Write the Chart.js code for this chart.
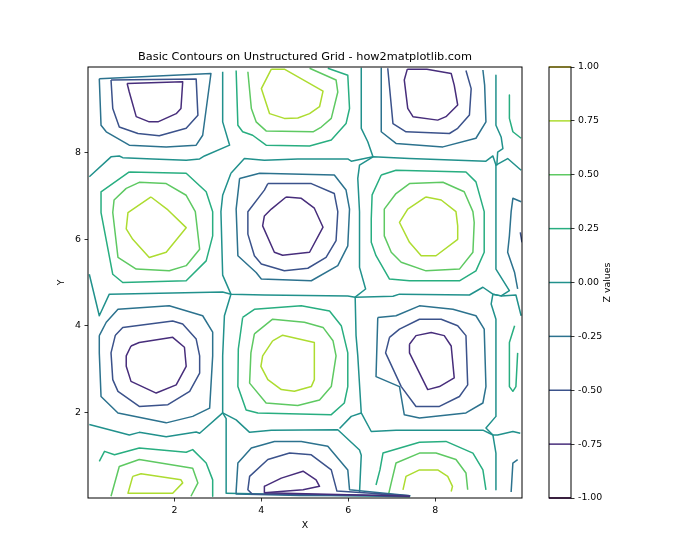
<!DOCTYPE html>
<html><head><meta charset="utf-8">
<script src="https://cdn.jsdelivr.net/npm/chart.js@4.4.1/dist/chart.umd.min.js"></script>
<style>
html,body{margin:0;padding:0;background:#fff;}
#wrap{position:relative;width:700px;height:560px;background:#fff;}
#main{position:absolute;left:0;top:0;}
#cbar{position:absolute;left:540px;top:0;}
</style></head><body>
<div id="wrap"><canvas id="main" width="700" height="560"></canvas><canvas id="cbar" width="160" height="560"></canvas></div>
<script>
const chartTitle = 'Basic Contours on Unstructured Grid - how2matplotlib.com';
const xLabel = 'X', yLabel = 'Y', cbarLabel = 'Z values';
const xTicks = [2, 4, 6, 8];
const yTicks = [2, 4, 6, 8];
const levels = [-1, -0.75, -0.5, -0.25, 0, 0.25, 0.5, 0.75, 1];
const levelColors = ['#440154','#472d7b','#3b528b','#2c728e','#21918c','#28ae80','#5ec962','#addc30','#fde725'];

// contour polylines, [x, y] in data units
// level -0.75
const m75_tl = [[0.91,9.61],[2.19,9.65],[2.15,9.03],[2.04,8.91],[1.62,8.72],[1.42,8.72],[1.12,8.84],[0.96,9.41],[0.91,9.61]];
const m75_tr = [[7.36,9.94],[7.29,9.69],[7.37,9.03],[7.49,8.84],[8.06,8.76],[8.25,8.84],[8.52,9.11],[8.44,9.57],[8.37,9.84],[7.81,9.94],[7.36,9.94]];
const m75_mc = [[4.57,6.98],[4.92,6.95],[5.22,6.72],[5.42,6.28],[5.11,5.70],[4.49,5.63],[4.30,5.70],[4.03,6.31],[4.07,6.54],[4.23,6.70],[4.57,6.98]];
const m75_ml = [[1.00,3.53],[1.19,3.61],[1.96,3.73],[2.23,3.50],[2.27,3.06],[2.04,2.63],[1.58,2.44],[1.00,2.71],[0.89,3.06],[0.89,3.30],[1.00,3.53]];
const m75_mr = [[7.41,3.57],[7.56,3.77],[7.91,3.84],[8.21,3.77],[8.37,3.53],[8.44,2.79],[8.10,2.59],[7.83,2.52],[7.41,3.37],[7.41,3.57]];
const m75_bc = [[4.07,0.28],[4.07,0.13],[4.96,0.20],[5.34,0.28],[5.26,0.43],[4.96,0.63],[4.46,0.47],[4.07,0.28]];
const m75_band = [[4.07,0.13],[7.42,0.05]];
// level -0.5
const m50_tl = [[0.54,9.69],[2.50,9.71],[2.54,8.87],[2.27,8.57],[1.65,8.40],[1.16,8.45],[0.73,8.60],[0.58,9.03],[0.54,9.69]];
const m50_tr = [[6.91,9.96],[7.03,8.68],[7.33,8.49],[8.33,8.45],[8.52,8.57],[8.79,8.88],[8.83,9.49],[8.71,9.91]];
const m50_mc = [[4.15,7.29],[5.15,7.29],[5.68,7.06],[5.76,6.64],[5.72,5.97],[5.49,5.58],[5.07,5.33],[4.53,5.27],[4.00,5.43],[3.84,5.62],[3.69,6.12],[3.69,6.64],[4.07,7.14],[4.15,7.29]];
const m50_ml = [[0.64,3.78],[0.81,3.96],[1.96,4.11],[2.19,4.04],[2.50,3.69],[2.58,3.30],[2.58,2.90],[2.35,2.48],[1.85,2.17],[1.19,2.13],[0.70,2.48],[0.58,2.75],[0.54,3.37],[0.64,3.78]];
const m50_mr = [[6.95,3.73],[7.18,3.92],[7.64,4.15],[8.14,4.15],[8.52,4.00],[8.71,3.77],[8.75,2.63],[8.56,2.36],[8.10,2.13],[7.56,2.13],[7.22,2.59],[6.86,3.37],[6.95,3.73]];
const m50_bc = [[7.42,0.06],[5.74,0.17],[5.61,0.66],[5.15,1.01],[4.65,1.05],[4.15,0.90],[3.73,0.51],[3.69,0.20],[3.79,0.10],[4.89,0.09],[7.42,0.06]];
const m50_r = [[9.96,6.16],[10.0,5.93]];
// level -0.25
const m25_tl = [[0.27,9.72],[2.84,9.84],[2.65,8.41],[2.50,8.18],[1.81,8.14],[0.96,8.18],[0.43,8.49],[0.31,8.64],[0.27,9.72]];
const m25_tr = [[6.76,9.96],[6.76,8.49],[7.10,8.22],[8.18,8.14],[8.94,8.34],[9.17,8.72],[9.14,9.57],[9.10,9.92]];
const m25_mc = [[3.50,7.41],[3.96,7.53],[5.68,7.49],[5.95,7.14],[6.03,6.70],[5.99,5.85],[5.76,5.39],[5.15,5.04],[4.00,5.08],[3.88,5.23],[3.46,5.62],[3.42,6.70],[3.50,7.41]];
const m25_ml = [[0.27,3.77],[0.43,4.08],[0.70,4.38],[1.88,4.46],[2.65,4.23],[2.88,3.85],[2.88,3.30],[2.81,2.09],[2.42,1.90],[1.81,1.75],[0.70,1.98],[0.31,2.36],[0.27,3.37],[0.27,3.77]];
const m25_mr = [[6.68,4.19],[7.10,4.23],[7.64,4.46],[8.41,4.38],[8.94,4.23],[9.13,3.92],[9.17,2.59],[9.10,2.21],[8.71,1.98],[7.64,1.86],[7.29,1.94],[7.18,2.59],[6.64,2.82],[6.68,4.19]];
const m25_bc = [[3.42,0.17],[3.46,0.82],[3.77,1.17],[4.30,1.32],[4.92,1.32],[5.53,1.21],[5.99,0.66],[6.03,0.20],[7.42,0.06],[4.89,0.07],[3.42,0.10],[3.42,0.17]];
const m25_rm = [[9.98,6.87],[9.79,6.95],[9.75,6.64],[9.71,6.08],[9.67,5.70],[9.83,5.23],[9.90,4.85]];
const m25_rb = [[9.75,0.15],[9.79,0.82],[9.90,0.90]];
// level 0
const z0_a = [[0.04,7.45],[0.54,7.91],[0.73,7.93],[0.81,7.89],[1.50,7.86],[2.27,7.83],[2.58,7.86],[2.69,7.93],[3.27,8.18],[3.11,8.72],[3.11,9.88]];
const z0_b = [[3.30,7.53],[3.61,7.87],[4.07,7.83],[4.84,7.86],[5.99,7.86],[6.07,7.81],[6.57,7.91],[7.41,7.87],[9.17,7.81],[9.33,7.93],[9.40,7.72],[9.67,7.87],[9.98,7.60]];
const z0_c = [[3.30,7.53],[3.11,7.02],[3.07,6.64],[3.11,5.17],[3.21,4.94],[3.30,4.73],[3.15,4.23],[3.11,3.30],[3.11,1.98],[3.19,1.85],[3.19,0.12]];
const z0_d = [[6.30,9.96],[6.30,8.57],[6.45,8.26],[6.57,7.91]];
const z0_e = [[6.57,7.91],[6.26,7.72],[6.22,7.41],[6.26,6.64],[6.26,5.35],[6.40,4.85],[6.16,4.66],[6.18,3.77],[6.22,3.30],[6.30,1.98],[6.07,1.90],[5.80,1.62]];
const z0_f = [[0.04,5.19],[0.27,4.23],[0.50,4.73],[3.11,4.78],[3.30,4.73],[4.07,4.71],[5.99,4.69],[6.16,4.66],[7.03,4.68],[7.18,4.73],[8.79,4.71],[9.10,4.89],[9.33,4.73],[9.52,4.69],[9.86,4.71],[9.98,4.23]];
const z0_g = [[0.04,1.71],[0.81,1.51],[0.96,1.47],[1.19,1.53],[1.81,1.43],[2.50,1.54],[2.58,1.51],[3.11,1.98]];
const z0_h = [[3.11,1.98],[3.42,1.82],[3.73,1.53],[4.23,1.58],[5.76,1.59],[6.26,1.12],[6.30,1.00],[6.26,0.13]];
const z0_i = [[6.30,1.98],[6.53,1.55],[7.10,1.58],[9.10,1.58],[9.33,1.47],[9.44,1.47],[9.79,1.55],[9.96,1.51]];
const z0_j = [[9.40,9.80],[9.40,8.64],[9.52,8.37],[9.56,8.10],[9.44,8.02],[9.42,7.71]];
const z0_k = [[9.40,7.72],[9.40,6.68],[9.40,5.31],[9.71,4.81],[9.52,4.69],[9.33,4.73],[9.29,4.50],[9.40,4.15],[9.40,2.28],[9.40,1.90],[9.17,1.63],[9.33,1.47],[9.40,1.05],[9.40,0.20]];
const z0_band = [[3.19,0.12],[7.42,0.04]];
// level 0.25
const p25_tc = [[3.42,9.91],[3.46,8.64],[3.57,8.49],[3.80,8.41],[4.11,8.18],[5.11,8.16],[5.61,8.30],[5.95,8.68],[6.03,9.03],[5.99,9.80],[5.53,9.96]];
const p25_ml = [[0.96,7.56],[2.27,7.53],[2.73,7.10],[2.88,6.64],[2.88,6.08],[2.73,5.50],[2.27,5.04],[0.81,5.00],[0.58,5.19],[0.31,6.62],[0.31,7.10],[0.96,7.56]];
const p25_mr = [[6.76,7.49],[7.10,7.60],[8.71,7.56],[8.94,7.33],[9.13,6.64],[9.13,5.70],[8.94,5.27],[8.56,5.04],[7.41,5.04],[6.95,5.08],[6.64,5.62],[6.53,5.93],[6.53,6.47],[6.55,7.03],[6.76,7.49]];
const p25_mc = [[3.57,4.19],[3.84,4.38],[4.92,4.46],[5.57,4.34],[5.84,4.00],[5.99,3.37],[5.99,2.59],[5.91,2.21],[5.61,1.94],[3.92,1.98],[3.65,2.05],[3.46,2.59],[3.47,3.46],[3.57,4.19]];
const p25_bl = [[0.27,0.86],[0.39,1.09],[0.62,1.01],[1.19,1.17],[2.27,1.07],[2.42,1.13],[2.73,0.82],[2.88,0.43],[2.88,0.05]];
const p25_br = [[6.64,0.31],[6.73,0.66],[6.80,1.05],[7.64,1.30],[8.25,1.32],[8.87,1.05],[9.10,0.66],[9.17,0.20]];
const p25_rt = [[9.71,9.34],[9.71,8.80],[9.79,8.49],[9.98,8.34]];
const p25_rm = [[9.83,4.00],[9.71,3.61],[9.71,2.59],[9.79,2.48],[9.86,2.59],[9.90,3.37]];
// level 0.5
const p50_tc = [[3.69,9.88],[3.77,9.03],[3.88,8.72],[4.11,8.51],[5.19,8.49],[5.38,8.60],[5.61,8.80],[5.76,9.41],[5.72,9.69],[5.11,9.96]];
const p50_ml = [[0.89,7.18],[1.19,7.32],[1.81,7.29],[2.27,7.02],[2.48,6.64],[2.58,5.77],[2.27,5.39],[1.88,5.27],[1.12,5.31],[0.70,5.58],[0.58,6.62],[0.61,6.91],[0.89,7.18]];
const p50_mr = [[7.10,7.06],[7.41,7.29],[8.18,7.32],[8.67,7.10],[8.87,6.64],[8.90,6.39],[8.87,5.70],[8.56,5.31],[7.79,5.27],[7.22,5.47],[6.99,5.70],[6.83,6.08],[6.83,6.70],[7.10,7.06]];
const p50_mc = [[3.84,3.81],[4.26,4.15],[4.99,4.08],[5.42,3.96],[5.65,3.65],[5.72,3.30],[5.61,2.59],[5.34,2.28],[4.84,2.15],[4.11,2.21],[3.73,2.67],[3.76,3.37],[3.84,3.81]];
const p50_bl = [[0.54,0.05],[0.73,0.74],[1.19,0.90],[2.42,0.70],[2.54,0.36],[2.38,0.05]];
const p50_br = [[6.92,0.06],[6.99,0.36],[7.10,0.82],[7.64,1.05],[8.02,1.05],[8.48,0.90],[8.71,0.59],[8.75,0.20]];
// level 0.75
const p75_tc = [[4.23,9.94],[4.53,9.94],[5.42,9.43],[5.34,9.07],[5.11,8.91],[4.84,8.81],[4.53,8.80],[4.19,8.91],[4.00,9.49],[4.23,9.94]];
const p75_ml = [[1.46,6.98],[1.85,6.68],[2.27,6.27],[1.81,5.70],[1.42,5.58],[1.04,6.00],[0.89,6.24],[0.93,6.62],[1.46,6.98]];
const p75_mr = [[7.79,6.98],[8.14,6.91],[8.48,6.64],[8.52,6.31],[8.52,6.00],[8.02,5.62],[7.68,5.62],[7.41,5.93],[7.18,6.39],[7.37,6.70],[7.79,6.98]];
const p75_mc = [[4.26,3.65],[4.49,3.78],[5.22,3.61],[5.22,2.75],[5.15,2.59],[4.76,2.48],[4.46,2.52],[4.15,2.75],[3.99,3.06],[4.03,3.30],[4.26,3.65]];
const p75_bl = [[1.04,0.51],[1.23,0.57],[2.15,0.43],[2.19,0.36],[1.96,0.12],[0.93,0.12],[1.04,0.51]];
const p75_br = [[7.26,0.20],[7.33,0.51],[7.64,0.66],[8.06,0.66],[8.29,0.51],[8.40,0.28],[8.37,0.16]];

const contourLines = [
  [-0.75, m75_tl], [-0.75, m75_tr], [-0.75, m75_mc], [-0.75, m75_ml], [-0.75, m75_mr], [-0.75, m75_bc], [-0.75, m75_band],
  [-0.5, m50_tl], [-0.5, m50_tr], [-0.5, m50_mc], [-0.5, m50_ml], [-0.5, m50_mr], [-0.5, m50_bc], [-0.5, m50_r],
  [-0.25, m25_tl], [-0.25, m25_tr], [-0.25, m25_mc], [-0.25, m25_ml], [-0.25, m25_mr], [-0.25, m25_bc], [-0.25, m25_rm], [-0.25, m25_rb],
  [0, z0_a], [0, z0_b], [0, z0_c], [0, z0_d], [0, z0_e], [0, z0_f], [0, z0_g], [0, z0_h], [0, z0_i], [0, z0_j], [0, z0_k], [0, z0_band],
  [0.25, p25_tc], [0.25, p25_ml], [0.25, p25_mr], [0.25, p25_mc], [0.25, p25_bl], [0.25, p25_br], [0.25, p25_rt], [0.25, p25_rm],
  [0.5, p50_tc], [0.5, p50_ml], [0.5, p50_mr], [0.5, p50_mc], [0.5, p50_bl], [0.5, p50_br],
  [0.75, p75_tc], [0.75, p75_ml], [0.75, p75_mr], [0.75, p75_mc], [0.75, p75_bl], [0.75, p75_br]
];

const FONT = '"DejaVu Sans", sans-serif';
Chart.defaults.font.family = FONT;
Chart.defaults.color = '#000';
const colorOf = lev => levelColors[levels.indexOf(lev)];

const framePlugin = {
  id: 'frame',
  afterDatasetsDraw(chart) {
    const {ctx, chartArea: a} = chart;
    ctx.save();
    ctx.strokeStyle = '#000';
    ctx.lineWidth = 1;
    ctx.strokeRect(a.left, a.top, a.right - a.left, a.bottom - a.top);
    ctx.restore();
  }
};

const tickFont = {size: 9.4, lineHeight: 1.2};
const gridOpts = {display: true, drawOnChartArea: false, drawTicks: true, tickLength: 3.5, tickWidth: 0.8, tickColor: '#000'};

new Chart(document.getElementById('main'), {
  type: 'scatter',
  data: {
    datasets: contourLines.map(([lev, pts]) => ({
      data: pts.map(([x, y]) => ({x, y})),
      showLine: true, pointRadius: 0, borderWidth: 1.5,
      borderColor: colorOf(lev), backgroundColor: colorOf(lev),
      borderJoinStyle: 'round', fill: false, tension: 0
    }))
  },
  options: {
    responsive: false, animation: false, devicePixelRatio: 1,
    layout: {padding: {left: 0, right: 178, top: 0, bottom: 0}},
    plugins: {
      legend: {display: false}, tooltip: {enabled: false},
      title: {display: true, text: chartTitle, fullSize: false, color: '#000',
        font: {size: 11.3, weight: 'normal', lineHeight: '14px'}, padding: {top: 50, bottom: 3}}
    },
    scales: {
      x: {
        type: 'linear', min: 0.01, max: 10.0,
        afterBuildTicks: s => { s.ticks = xTicks.map(v => ({value: v})); },
        afterFit: s => { s.height = 62; },
        grid: gridOpts, border: {display: false},
        ticks: {color: '#000', padding: 3.5, font: tickFont, maxRotation: 0, autoSkip: false},
        title: {display: true, text: xLabel, color: '#000', font: tickFont, padding: {top: 0, bottom: 29}}
      },
      y: {
        type: 'linear', min: 0.01, max: 9.99,
        afterBuildTicks: s => { s.ticks = yTicks.map(v => ({value: v})); },
        afterFit: s => { s.width = 88; },
        grid: gridOpts, border: {display: false},
        ticks: {color: '#000', padding: 3.5, font: tickFont, autoSkip: false},
        title: {display: true, text: yLabel, color: '#000', font: tickFont, padding: {top: 56, bottom: 0}}
      }
    }
  },
  plugins: [framePlugin]
});

const cbLabelPlugin = {
  id: 'cblabel',
  afterDraw(chart) {
    const {ctx, chartArea: a} = chart;
    ctx.save();
    ctx.translate(a.right + 37, (a.top + a.bottom) / 2);
    ctx.rotate(-Math.PI / 2);
    ctx.font = '9.4px ' + FONT;
    ctx.fillStyle = '#000';
    ctx.textAlign = 'center';
    ctx.textBaseline = 'middle';
    ctx.fillText(cbarLabel, 0, 0);
    ctx.restore();
  }
};

new Chart(document.getElementById('cbar'), {
  type: 'scatter',
  data: {
    datasets: levels.map(lev => ({
      data: [{x: 0, y: lev}, {x: 1, y: lev}],
      showLine: true, pointRadius: 0, borderWidth: 1.5,
      borderColor: colorOf(lev), clip: false
    }))
  },
  options: {
    responsive: false, animation: false, devicePixelRatio: 1,
    layout: {padding: {left: 9, right: 0, top: 67, bottom: 62}},
    plugins: {legend: {display: false}, tooltip: {enabled: false}},
    scales: {
      x: {type: 'linear', display: false, min: 0, max: 1},
      y: {
        type: 'linear', position: 'right', min: -1, max: 1,
        afterBuildTicks: s => { s.ticks = levels.map(v => ({value: v})); },
        afterFit: s => { s.width = 129; },
        grid: gridOpts, border: {display: false},
        ticks: {color: '#000', padding: 3.5, font: tickFont, autoSkip: false,
          callback: v => Number(v).toFixed(2)}
      }
    }
  },
  plugins: [framePlugin, cbLabelPlugin]
});
</script></body></html>
